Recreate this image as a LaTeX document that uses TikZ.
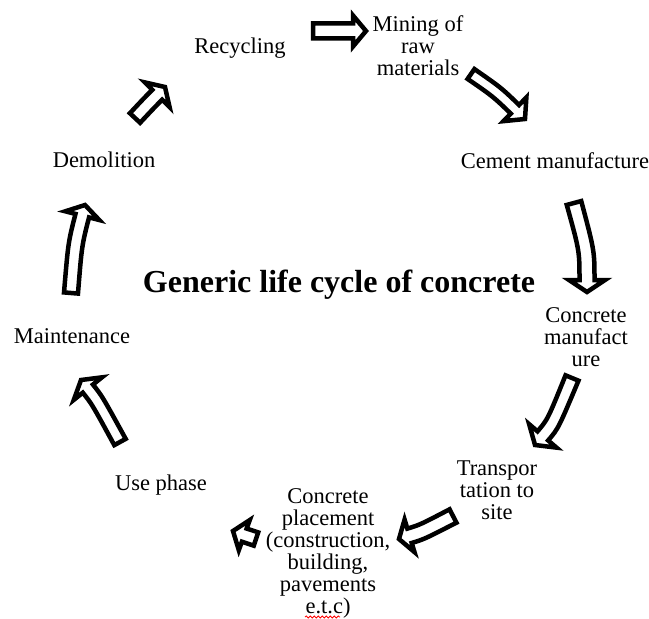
\documentclass[tikz,border=0pt]{standalone}
\usepackage{fontspec}
\setmainfont{Liberation Serif}
\usetikzlibrary{calc,decorations.pathmorphing}

\tikzset{
  lbl/.style={inner sep=0pt, anchor=base, align=center,
              font=\fontsize{22.5bp}{22bp}\selectfont},
  ttl/.style={inner sep=0pt, anchor=base,
              font=\fontsize{32bp}{36bp}\selectfont\bfseries},
  blockarrow/.style={draw=black, fill=white, line width=4.5bp,
                     line join=miter, miter limit=6},
  spellmark/.style={draw=red, line width=0.8bp, decorate,
                    decoration={snake, amplitude=1bp, segment length=4bp}},
}

% Hollow block arrow: #1 tail centre, #2 bend control, #3 tip,
% #4 body half-width, #5 head half-width, #6 head length
\newcommand\hollowarrow[6]{%
  \coordinate (ha-b) at ($(#3)!#6!(#2)$);
  \draw[blockarrow]
    ($(#1)!#4!90:(#2)$) .. controls ($(#2)!#4!90:(#3)$) .. ($(ha-b)!#4!90:(#3)$)
    -- ($(ha-b)!#5!90:(#3)$) -- (#3) -- ($(ha-b)!#5!-90:(#3)$)
    -- ($(ha-b)!#4!-90:(#3)$) .. controls ($(#2)!#4!-90:(#3)$) .. ($(#1)!#4!-90:(#2)$)
    -- cycle;
}

\begin{document}
\begin{tikzpicture}[x=1bp, y=-1bp]
  \useasboundingbox[fill=white] (0,0) rectangle (649,619);

  % stage labels (anchored at the baseline of their last line)
  \node[lbl] (mining)    at (418,76)  {Mining of\\raw\\materials};
  \node[lbl] (cement)    at (555,169) {Cement manufacture};
  \node[lbl] (concmf)    at (586,366) {Concrete\\manufact\\ure};
  \node[lbl] (transport) at (497,519) {Transpor\\tation to\\site};
  \node[lbl] (placement) at (328,613) {Concrete\\placement\\(construction,\\building,\\pavements\\e.t.c)};
  \node[lbl] (use)       at (161,490) {Use phase};
  \node[lbl] (maint)     at (72,343)  {Maintenance};
  \node[lbl] (demol)     at (104,168) {Demolition};
  \node[lbl] (recyc)     at (240,54)  {Recycling};

  \node[ttl] (title) at (339,292) {Generic life cycle of concrete};

  % spell-check underline under "e.t.c"
  \coordinate (sp-l) at (305,617);
  \coordinate (sp-r) at (340,617);
  \draw[spellmark] (sp-l) -- (sp-r);

  % arrow geometry: tail, bend control, tip
  \coordinate (a1t) at (313,31);  \coordinate (a1c) at (339,31);  \coordinate (a1e) at (366,31);
  \coordinate (a2t) at (471,74);  \coordinate (a2c) at (497,92);  \coordinate (a2e) at (525,119);
  \coordinate (a3t) at (574,203); \coordinate (a3c) at (587,251); \coordinate (a3e) at (587,292);
  \coordinate (a4t) at (572,378); \coordinate (a4c) at (553,424); \coordinate (a4e) at (535,445);
  \coordinate (a5t) at (453,516); \coordinate (a5c) at (422,532); \coordinate (a5e) at (399,539);
  \coordinate (a6t) at (256,539); \coordinate (a6c) at (244,535); \coordinate (a6e) at (233,531);
  \coordinate (a7t) at (120,442); \coordinate (a7c) at (97,400);  \coordinate (a7e) at (81,380);
  \coordinate (a8t) at (71,293);  \coordinate (a8c) at (75,244);  \coordinate (a8e) at (85,205);
  \coordinate (a9t) at (135,118); \coordinate (a9c) at (150,102); \coordinate (a9e) at (165,87);

  \hollowarrow{a1t}{a1c}{a1e}{7.5bp}{15.5bp}{13bp}
  \hollowarrow{a2t}{a2c}{a2e}{6bp}{16.5bp}{14bp}
  \hollowarrow{a3t}{a3c}{a3e}{7.5bp}{18bp}{12bp}
  \hollowarrow{a4t}{a4c}{a4e}{7bp}{18bp}{12bp}
  \hollowarrow{a5t}{a5c}{a5e}{7.5bp}{17bp}{11bp}
  \hollowarrow{a6t}{a6c}{a6e}{7bp}{16bp}{12bp}
  \hollowarrow{a7t}{a7c}{a7e}{6.5bp}{18bp}{11bp}
  \hollowarrow{a8t}{a8c}{a8e}{7bp}{17.5bp}{11bp}
  \hollowarrow{a9t}{a9c}{a9e}{7bp}{17.5bp}{11bp}
\end{tikzpicture}
\end{document}
